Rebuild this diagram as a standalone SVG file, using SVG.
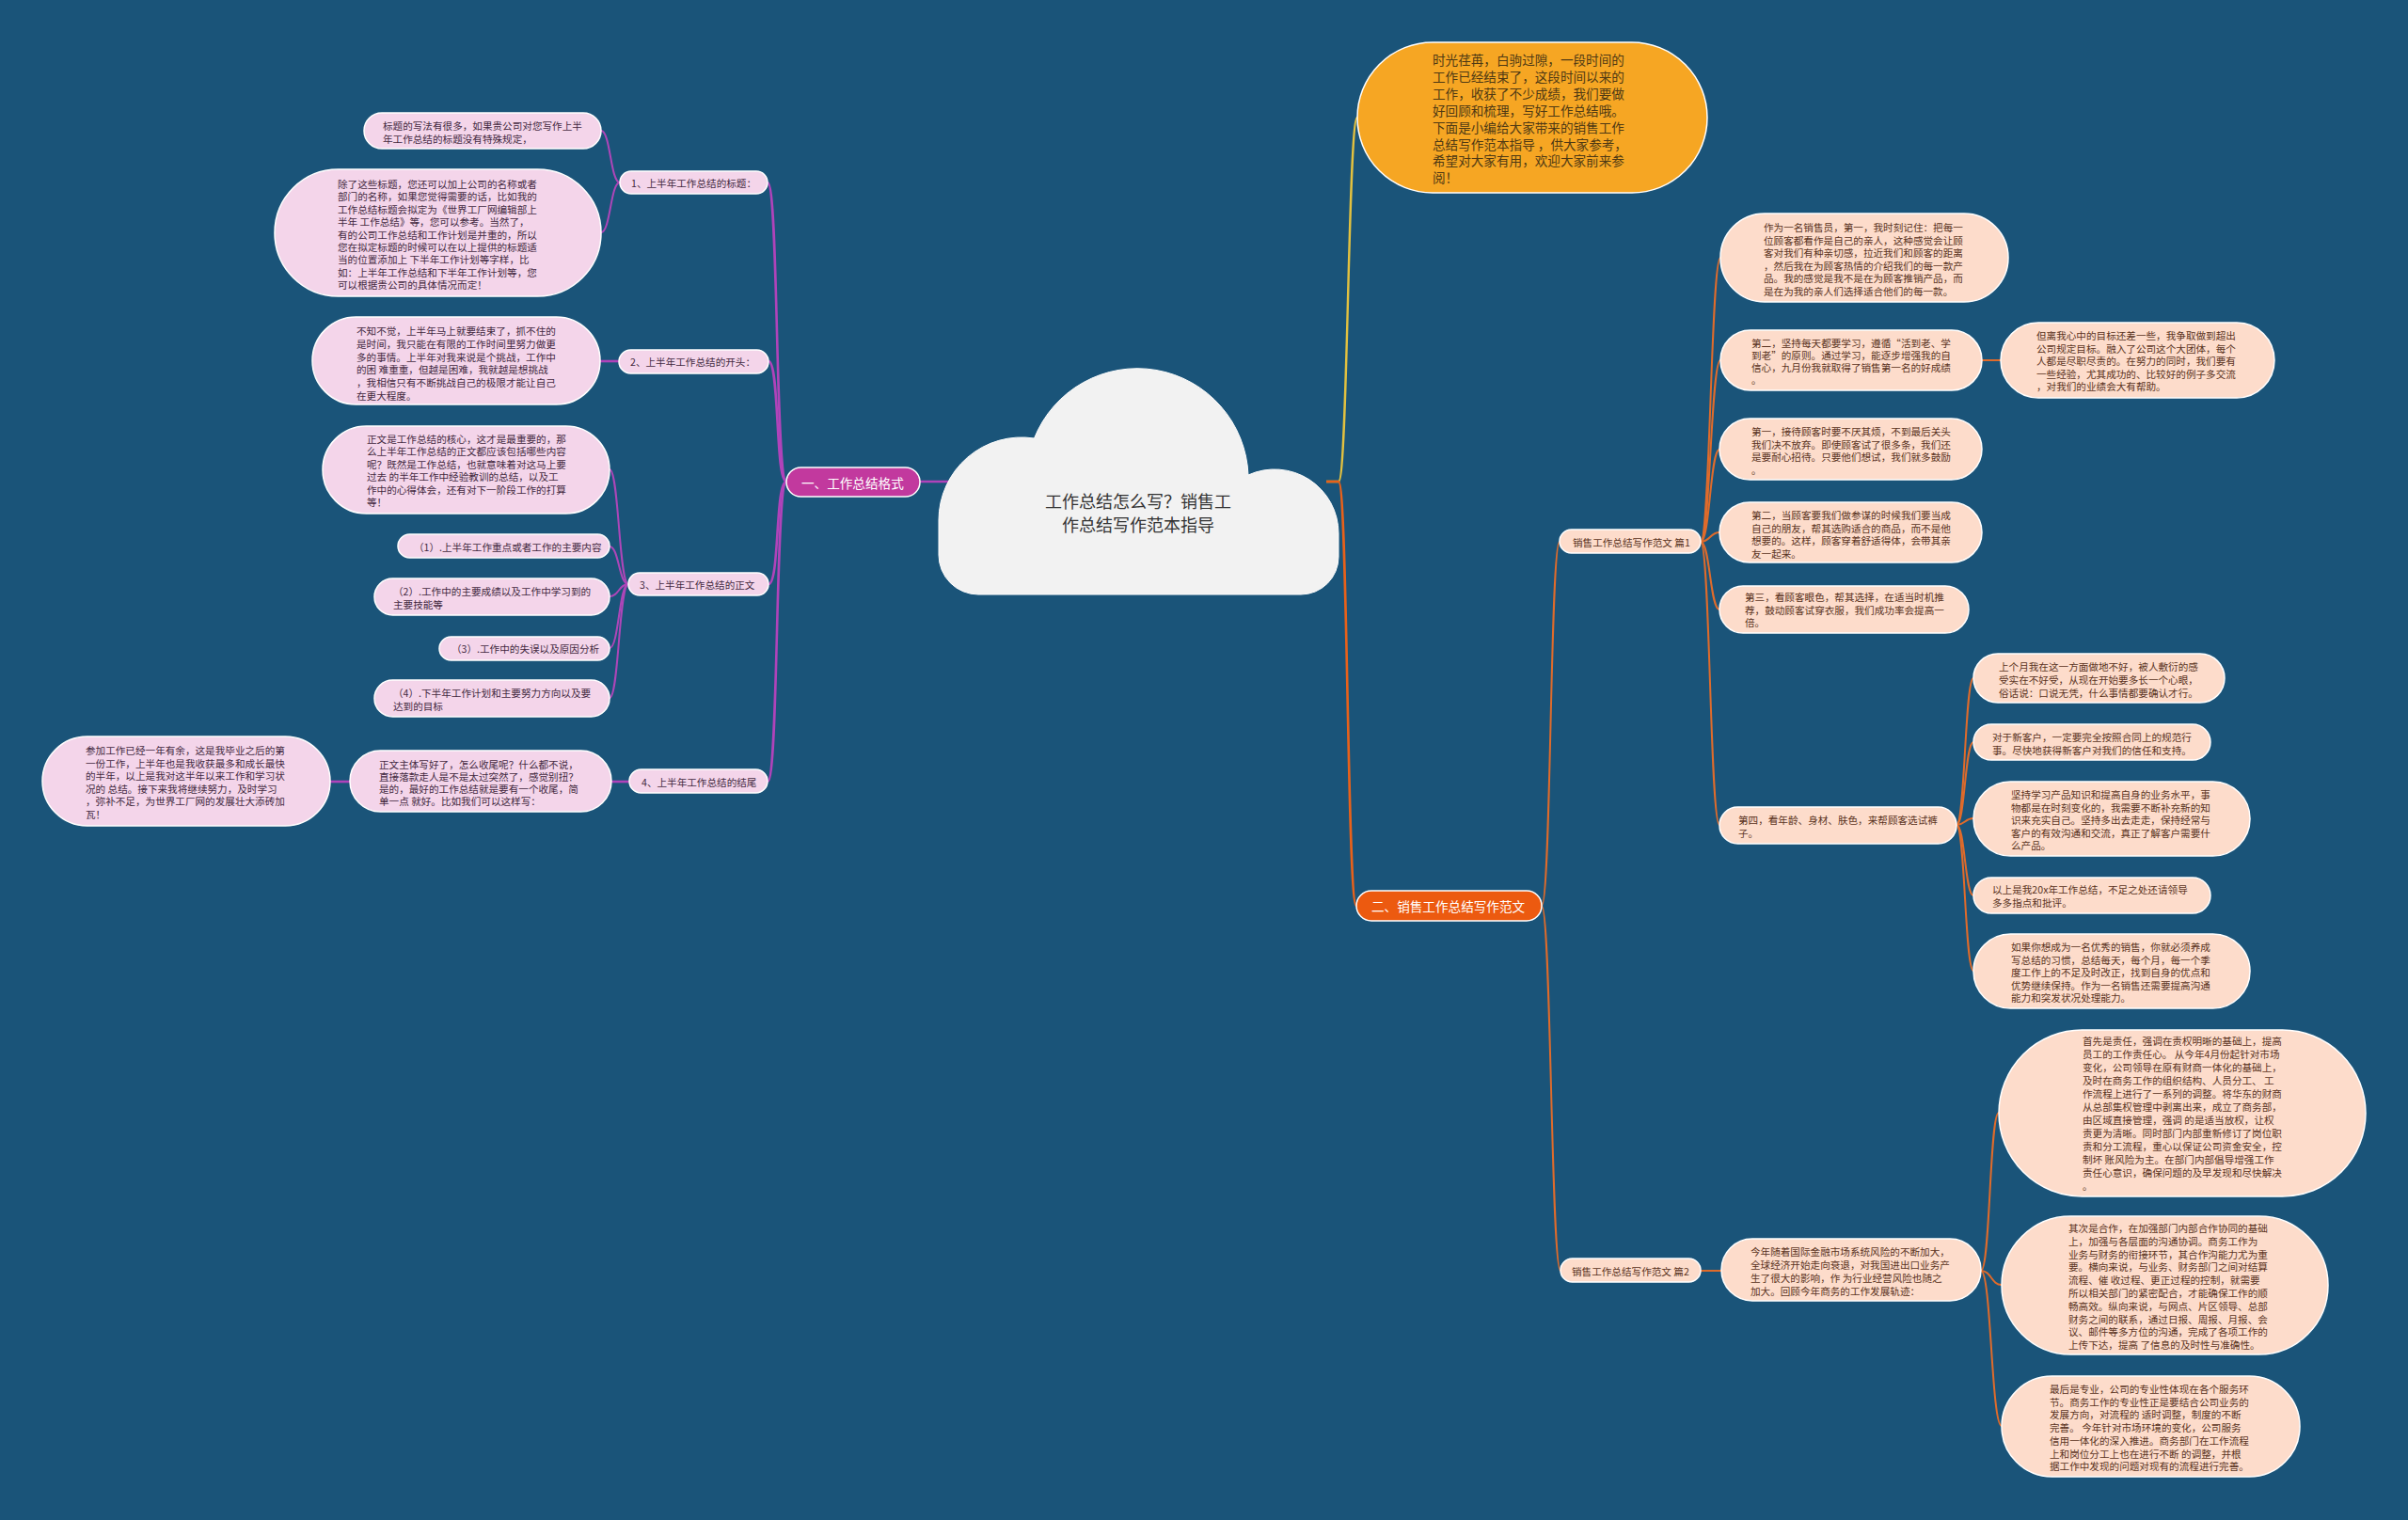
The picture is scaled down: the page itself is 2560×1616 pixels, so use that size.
<svg xmlns="http://www.w3.org/2000/svg" width="2560" height="1616" viewBox="0 0 2560 1616">
<style>
.t{font-family:"Noto Sans CJK SC","Noto Sans",sans-serif;font-size:10.6px;dominant-baseline:central}
.tl{fill:#43293f}
.tr{fill:#5a3322}
.nl{fill:#f4d5ea;stroke:#ffffff;stroke-width:1.5}
.nr{fill:#fddccb;stroke:#ffffff;stroke-width:1.5}
.cp{fill:none;stroke:#ad46b8;stroke-width:2}
.cpm{fill:none;stroke:#b043ba;stroke-width:2.6}
.co{fill:none;stroke:#df6b2b;stroke-width:2}
.com{fill:none;stroke:#e8611a;stroke-width:2.6}
.cy{fill:none;stroke:#e3c13f;stroke-width:2.4}
.big{font-size:13.6px}
</style>
<rect x="0" y="0" width="2560" height="1616" fill="#1a5479"/>
<g id="connectors">
<path class="cpm" d="M836 512 C824 512 828 194 816 194"/>
<path class="cpm" d="M836 512 C824 512 829 384 817 384"/>
<path class="cpm" d="M836 512 C824 512 829 621 817 621"/>
<path class="cpm" d="M836 512 C824 512 828 831 816 831"/>
<path class="cpm" d="M978 512 L1012 512"/>
<path class="cp" d="M659 194 C649 194 649 139 639 139"/>
<path class="cp" d="M659 194 C649 194 649 247 639 247"/>
<path class="cpm" d="M658 384 L638 384"/>
<path class="cp" d="M668 621 C658 621 658 499 648 499"/>
<path class="cp" d="M668 621 C658 621 658 581 648 581"/>
<path class="cp" d="M668 621 C658 621 658 634 648 634"/>
<path class="cp" d="M668 621 C658 621 658 689 648 689"/>
<path class="cp" d="M668 621 C658 621 658 742 648 742"/>
<path class="cpm" d="M669 831 L650 831"/>
<path class="cpm" d="M372 831 L351 831"/>
<path class="cy" d="M1410 512 L1423 512 C1433 512 1433 125 1443 125"/>
<path class="com" d="M1410 512 L1423 512 C1433 512 1432 963 1442 963"/>
<path class="co" d="M1639 963 C1649 963 1648 576 1658 576"/>
<path class="co" d="M1639 963 C1649 963 1649 1351 1659 1351"/>
<path class="co" d="M1808 576 C1818 576 1819 274 1829 274"/>
<path class="co" d="M1808 576 C1818 576 1819 383 1829 383"/>
<path class="co" d="M1808 576 C1818 576 1818 478 1828 478"/>
<path class="co" d="M1808 576 C1818 576 1818 566 1828 566"/>
<path class="co" d="M1808 576 C1818 576 1818 648 1828 648"/>
<path class="co" d="M1808 576 C1818 576 1818 877 1828 877"/>
<path class="co" d="M2107 383 L2127 383"/>
<path class="co" d="M2080 877 C2089 877 2089 721 2098 721"/>
<path class="co" d="M2080 877 C2089 877 2089 789 2098 789"/>
<path class="co" d="M2080 877 C2089 877 2089 870 2098 870"/>
<path class="co" d="M2080 877 C2089 877 2089 952 2098 952"/>
<path class="co" d="M2080 877 C2089 877 2089 1032 2098 1032"/>
<path class="co" d="M1808 1351 L1830 1351"/>
<path class="co" d="M2106 1351 C2116 1351 2115 1183 2125 1183"/>
<path class="co" d="M2106 1351 C2117 1351 2117 1366 2128 1366"/>
<path class="co" d="M2106 1351 C2117 1351 2117 1516 2128 1516"/>
</g>
<g id="root">
<path d="M1040 632 A42 42 0 0 1 998 590 L998 553 A88 88 0 0 1 1099.5 466 A118 118 0 0 1 1327 505 A68 68 0 0 1 1423 567 L1423 592 A40 40 0 0 1 1383 632 Z" fill="#f2f2f2" stroke="#ffffff" stroke-width="1"/>
<text class="t" x="1210" y="532" text-anchor="middle" style="font-size:18px;fill:#333333">工作总结怎么写？销售工</text>
<text class="t" x="1210" y="557" text-anchor="middle" style="font-size:18px;fill:#333333">作总结写作范本指导</text>
</g>
<g id="b1">
<rect x="836" y="497" width="142" height="31" rx="15.5" fill="#c2399e" stroke="#ffffff" stroke-width="1.5"/>
<text class="t big" x="852" y="512.5" fill="#ffffff">一、工作总结格式</text>
</g>
<g id="n1">
<rect class="nl" x="659" y="182" width="157" height="24" rx="12"/>
<text class="t tl" x="671" y="194">1、上半年工作总结的标题：</text>
</g>
<g id="n1a">
<rect class="nl" x="387" y="120" width="252" height="38" rx="19"/>
<text class="t tl"><tspan x="407" y="133">标题的写法有很多，如果贵公司对您写作上半</tspan><tspan x="407" y="147">年工作总结的标题没有特殊规定，</tspan></text>
</g>
<g id="n1b">
<rect class="nl" x="292" y="180" width="347" height="135" rx="67.5"/>
<text class="t tl"><tspan x="359" y="195">除了这些标题，您还可以加上公司的名称或者</tspan><tspan x="359" y="208.4">部门的名称，如果您觉得需要的话，比如我的</tspan><tspan x="359" y="221.8">工作总结标题会拟定为《世界工厂网编辑部上</tspan><tspan x="359" y="235.2">半年 工作总结》等，您可以参考。当然了，</tspan><tspan x="359" y="248.6">有的公司工作总结和工作计划是并重的，所以</tspan><tspan x="359" y="262">您在拟定标题的时候可以在以上提供的标题适</tspan><tspan x="359" y="275.4">当的位置添加上 下半年工作计划等字样，比</tspan><tspan x="359" y="288.8">如：上半年工作总结和下半年工作计划等，您</tspan><tspan x="359" y="302.2">可以根据贵公司的具体情况而定！</tspan></text>
</g>
<g id="n2">
<rect class="nl" x="658" y="372" width="159" height="25" rx="12.5"/>
<text class="t tl" x="670" y="384.5">2、上半年工作总结的开头：</text>
</g>
<g id="n2a">
<rect class="nl" x="332" y="337" width="306" height="93" rx="46.5"/>
<text class="t tl"><tspan x="379" y="351">不知不觉，上半年马上就要结束了，抓不住的</tspan><tspan x="379" y="364.8">是时间，我只能在有限的工作时间里努力做更</tspan><tspan x="379" y="378.6">多的事情。上半年对我来说是个挑战，工作中</tspan><tspan x="379" y="392.4">的困 难重重，但越是困难，我就越是想挑战</tspan><tspan x="379" y="406.2">，我相信只有不断挑战自己的极限才能让自己</tspan><tspan x="379" y="420">在更大程度。</tspan></text>
</g>
<g id="n3">
<rect class="nl" x="668" y="609" width="149" height="24" rx="12"/>
<text class="t tl" x="680" y="621">3、上半年工作总结的正文</text>
</g>
<g id="n3a">
<rect class="nl" x="343" y="453" width="305" height="93" rx="46.5"/>
<text class="t tl"><tspan x="390" y="466">正文是工作总结的核心，这才是最重要的，那</tspan><tspan x="390" y="479.4">么上半年工作总结的正文都应该包括哪些内容</tspan><tspan x="390" y="492.8">呢？既然是工作总结，也就意味着对这马上要</tspan><tspan x="390" y="506.2">过去 的半年工作中经验教训的总结，以及工</tspan><tspan x="390" y="519.6">作中的心得体会，还有对下一阶段工作的打算</tspan><tspan x="390" y="533">等！</tspan></text>
</g>
<g id="n3b">
<rect class="nl" x="423" y="568" width="225" height="25" rx="12.5"/>
<text class="t tl" x="440" y="581">（1）.上半年工作重点或者工作的主要内容</text>
</g>
<g id="n3c">
<rect class="nl" x="398" y="615" width="250" height="39" rx="19.5"/>
<text class="t tl"><tspan x="418" y="628">（2）.工作中的主要成绩以及工作中学习到的</tspan><tspan x="418" y="642">主要技能等</tspan></text>
</g>
<g id="n3d">
<rect class="nl" x="467" y="677" width="181" height="25" rx="12.5"/>
<text class="t tl" x="480" y="689.5">（3）.工作中的失误以及原因分析</text>
</g>
<g id="n3e">
<rect class="nl" x="398" y="723" width="250" height="39" rx="19.5"/>
<text class="t tl"><tspan x="418" y="736">（4）.下半年工作计划和主要努力方向以及要</tspan><tspan x="418" y="750">达到的目标</tspan></text>
</g>
<g id="n4">
<rect class="nl" x="669" y="818" width="147" height="25" rx="12.5"/>
<text class="t tl" x="682" y="831">4、上半年工作总结的结尾</text>
</g>
<g id="n4a">
<rect class="nl" x="372" y="798" width="278" height="65" rx="32.5"/>
<text class="t tl"><tspan x="403" y="812">正文主体写好了，怎么收尾呢？什么都不说，</tspan><tspan x="403" y="825">直接落款走人是不是太过突然了，感觉别扭？</tspan><tspan x="403" y="838">是的，最好的工作总结就是要有一个收尾，简</tspan><tspan x="403" y="851">单一点 就好。比如我们可以这样写：</tspan></text>
</g>
<g id="n4b">
<rect class="nl" x="45" y="783" width="306" height="95" rx="47.5"/>
<text class="t tl"><tspan x="91" y="797">参加工作已经一年有余，这是我毕业之后的第</tspan><tspan x="91" y="810.5">一份工作，上半年也是我收获最多和成长最快</tspan><tspan x="91" y="824">的半年，以上是我对这半年以来工作和学习状</tspan><tspan x="91" y="837.5">况的 总结。接下来我将继续努力，及时学习</tspan><tspan x="91" y="851">，弥补不足，为世界工厂网的发展壮大添砖加</tspan><tspan x="91" y="864.5">瓦！</tspan></text>
</g>
<g id="intro">
<rect x="1443" y="45" width="372" height="160" rx="80" fill="#f6a623" stroke="#ffffff" stroke-width="1.5"/>
<text class="t big" fill="#4e3914"><tspan x="1523" y="63">时光荏苒，白驹过隙，一段时间的</tspan><tspan x="1523" y="80.9">工作已经结束了，这段时间以来的</tspan><tspan x="1523" y="98.8">工作，收获了不少成绩，我们要做</tspan><tspan x="1523" y="116.7">好回顾和梳理，写好工作总结哦。</tspan><tspan x="1523" y="134.6">下面是小编给大家带来的销售工作</tspan><tspan x="1523" y="152.5">总结写作范本指导 ，供大家参考，</tspan><tspan x="1523" y="170.4">希望对大家有用，欢迎大家前来参</tspan><tspan x="1523" y="188.3">阅！</tspan></text>
</g>
<g id="b2">
<rect x="1442" y="947" width="197" height="32" rx="16" fill="#ec5a10" stroke="#ffffff" stroke-width="1.5"/>
<text class="t big" x="1458" y="963" fill="#ffffff">二、销售工作总结写作范文</text>
</g>
<g id="p1">
<rect class="nr" x="1658" y="563" width="150" height="25" rx="12.5"/>
<text class="t tr" x="1672" y="576">销售工作总结写作范文 篇1</text>
</g>
<g id="p1a">
<rect class="nr" x="1829" y="227" width="306" height="94" rx="47"/>
<text class="t tr"><tspan x="1875" y="241">作为一名销售员，第一，我时刻记住：把每一</tspan><tspan x="1875" y="254.6">位顾客都看作是自己的亲人，这种感觉会让顾</tspan><tspan x="1875" y="268.2">客对我们有种亲切感，拉近我们和顾客的距离</tspan><tspan x="1875" y="281.8">，然后我在为顾客热情的介绍我们的每一款产</tspan><tspan x="1875" y="295.4">品。我的感觉是我不是在为顾客推销产品，而</tspan><tspan x="1875" y="309">是在为我的亲人们选择适合他们的每一款。</tspan></text>
</g>
<g id="p1b">
<rect class="nr" x="1829" y="351" width="278" height="64" rx="32"/>
<text class="t tr"><tspan x="1862" y="364">第二，坚持每天都要学习，遵循“活到老、学</tspan><tspan x="1862" y="377">到老”的原则。通过学习，能逐步增强我的自</tspan><tspan x="1862" y="390">信心，九月份我就取得了销售第一名的好成绩</tspan><tspan x="1862" y="403">。</tspan></text>
</g>
<g id="p1b1">
<rect class="nr" x="2127" y="343" width="291" height="80" rx="40"/>
<text class="t tr"><tspan x="2165" y="356">但离我心中的目标还差一些，我争取做到超出</tspan><tspan x="2165" y="369.5">公司规定目标。融入了公司这个大团体，每个</tspan><tspan x="2165" y="383">人都是尽职尽责的。在努力的同时，我们要有</tspan><tspan x="2165" y="396.5">一些经验，尤其成功的、比较好的例子多交流</tspan><tspan x="2165" y="410">，对我们的业绩会大有帮助。</tspan></text>
</g>
<g id="p1c">
<rect class="nr" x="1828" y="445" width="279" height="65" rx="32.5"/>
<text class="t tr"><tspan x="1862" y="458">第一，接待顾客时要不厌其烦，不到最后关头</tspan><tspan x="1862" y="471.5">我们决不放弃。即使顾客试了很多条，我们还</tspan><tspan x="1862" y="485">是要耐心招待。只要他们想试，我们就多鼓励</tspan><tspan x="1862" y="498.5">。</tspan></text>
</g>
<g id="p1d">
<rect class="nr" x="1828" y="534" width="279" height="64" rx="32"/>
<text class="t tr"><tspan x="1862" y="547">第二，当顾客要我们做参谋的时候我们要当成</tspan><tspan x="1862" y="560.5">自己的朋友，帮其选购适合的商品，而不是他</tspan><tspan x="1862" y="574">想要的。这样，顾客穿着舒适得体，会带其亲</tspan><tspan x="1862" y="587.5">友一起来。</tspan></text>
</g>
<g id="p1e">
<rect class="nr" x="1828" y="623" width="265" height="50" rx="25"/>
<text class="t tr"><tspan x="1855" y="634">第三，看顾客眼色，帮其选择，在适当时机推</tspan><tspan x="1855" y="647.5">荐，鼓动顾客试穿衣服，我们成功率会提高一</tspan><tspan x="1855" y="661">倍。</tspan></text>
</g>
<g id="p1f">
<rect class="nr" x="1828" y="858" width="252" height="39" rx="19.5"/>
<text class="t tr"><tspan x="1848" y="871">第四，看年龄、身材、肤色，来帮顾客选试裤</tspan><tspan x="1848" y="885">子。</tspan></text>
</g>
<g id="p1f1">
<rect class="nr" x="2098" y="695" width="267" height="52" rx="26"/>
<text class="t tr"><tspan x="2125" y="708">上个月我在这一方面做地不好，被人敷衍的感</tspan><tspan x="2125" y="722">受实在不好受，从现在开始要多长一个心眼，</tspan><tspan x="2125" y="736">俗话说：口说无凭，什么事情都要确认才行。</tspan></text>
</g>
<g id="p1f2">
<rect class="nr" x="2098" y="770" width="252" height="38" rx="19"/>
<text class="t tr"><tspan x="2118" y="783">对于新客户，一定要完全按照合同上的规范行</tspan><tspan x="2118" y="797">事。尽快地获得新客户对我们的信任和支持。</tspan></text>
</g>
<g id="p1f3">
<rect class="nr" x="2098" y="831" width="294" height="79" rx="39.5"/>
<text class="t tr"><tspan x="2138" y="844">坚持学习产品知识和提高自身的业务水平，事</tspan><tspan x="2138" y="857.5">物都是在时刻变化的，我需要不断补充新的知</tspan><tspan x="2138" y="871">识来充实自己。坚持多出去走走，保持经常与</tspan><tspan x="2138" y="884.5">客户的有效沟通和交流，真正了解客户需要什</tspan><tspan x="2138" y="898">么产品。</tspan></text>
</g>
<g id="p1f4">
<rect class="nr" x="2098" y="933" width="252" height="38" rx="19"/>
<text class="t tr"><tspan x="2118" y="945">以上是我20x年工作总结，不足之处还请领导</tspan><tspan x="2118" y="959">多多指点和批评。</tspan></text>
</g>
<g id="p1f5">
<rect class="nr" x="2098" y="993" width="294" height="79" rx="39.5"/>
<text class="t tr"><tspan x="2138" y="1006">如果你想成为一名优秀的销售，你就必须养成</tspan><tspan x="2138" y="1019.5">写总结的习惯，总结每天，每个月，每一个季</tspan><tspan x="2138" y="1033">度工作上的不足及时改正，找到自身的优点和</tspan><tspan x="2138" y="1046.5">优势继续保持。作为一名销售还需要提高沟通</tspan><tspan x="2138" y="1060">能力和突发状况处理能力。</tspan></text>
</g>
<g id="p2">
<rect class="nr" x="1659" y="1338" width="149" height="25" rx="12.5"/>
<text class="t tr" x="1671" y="1351">销售工作总结写作范文 篇2</text>
</g>
<g id="p2a">
<rect class="nr" x="1830" y="1317" width="276" height="66" rx="33"/>
<text class="t tr"><tspan x="1861" y="1330">今年随着国际金融市场系统风险的不断加大，</tspan><tspan x="1861" y="1344">全球经济开始走向衰退，对我国进出口业务产</tspan><tspan x="1861" y="1358">生了很大的影响，作 为行业经营风险也随之</tspan><tspan x="1861" y="1372">加大。回顾今年商务的工作发展轨迹：</tspan></text>
</g>
<g id="p2b">
<rect class="nr" x="2125" y="1095" width="390" height="177" rx="88.5"/>
<text class="t tr"><tspan x="2214" y="1106">首先是责任，强调在责权明晰的基础上，提高</tspan><tspan x="2214" y="1120">员工的工作责任心。 从今年4月份起针对市场</tspan><tspan x="2214" y="1134">变化，公司领导在原有财商一体化的基础上，</tspan><tspan x="2214" y="1148">及时在商务工作的组织结构、人员分工、 工</tspan><tspan x="2214" y="1162">作流程上进行了一系列的调整。将华东的财商</tspan><tspan x="2214" y="1176">从总部集权管理中剥离出来，成立了商务部，</tspan><tspan x="2214" y="1190">由区域直接管理，强调 的是适当放权，让权</tspan><tspan x="2214" y="1204">责更为清晰。同时部门内部重新修订了岗位职</tspan><tspan x="2214" y="1218">责和分工流程，重心以保证公司资金安全，控</tspan><tspan x="2214" y="1232">制坏 账风险为主。在部门内部倡导增强工作</tspan><tspan x="2214" y="1246">责任心意识，确保问题的及早发现和尽快解决</tspan><tspan x="2214" y="1260">。</tspan></text>
</g>
<g id="p2c">
<rect class="nr" x="2128" y="1293" width="347" height="147" rx="73.5"/>
<text class="t tr"><tspan x="2199" y="1305">其次是合作，在加强部门内部合作协同的基础</tspan><tspan x="2199" y="1318.8">上，加强与各层面的沟通协调。商务工作为</tspan><tspan x="2199" y="1332.6">业务与财务的衔接环节，其合作沟能力尤为重</tspan><tspan x="2199" y="1346.4">要。横向来说，与业务、财务部门之间对结算</tspan><tspan x="2199" y="1360.2">流程、催 收过程、更正过程的控制，就需要</tspan><tspan x="2199" y="1374">所以相关部门的紧密配合，才能确保工作的顺</tspan><tspan x="2199" y="1387.8">畅高效。纵向来说，与网点、片区领导、总部</tspan><tspan x="2199" y="1401.6">财务之间的联系，通过日报、周报、月报、会</tspan><tspan x="2199" y="1415.4">议、邮件等多方位的沟通，完成了各项工作的</tspan><tspan x="2199" y="1429.2">上传下达，提高 了信息的及时性与准确性。</tspan></text>
</g>
<g id="p2d">
<rect class="nr" x="2128" y="1463" width="317" height="107" rx="53.5"/>
<text class="t tr"><tspan x="2179" y="1476">最后是专业，公司的专业性体现在各个服务环</tspan><tspan x="2179" y="1489.7">节。商务工作的专业性正是要结合公司业务的</tspan><tspan x="2179" y="1503.4">发展方向，对流程的 适时调整，制度的不断</tspan><tspan x="2179" y="1517.1">完善。 今年针对市场环境的变化，公司服务</tspan><tspan x="2179" y="1530.8">信用一体化的深入推进。商务部门在工作流程</tspan><tspan x="2179" y="1544.5">上和岗位分工上也在进行不断 的调整，并根</tspan><tspan x="2179" y="1558.2">据工作中发现的问题对现有的流程进行完善。</tspan></text>
</g>
</svg>
